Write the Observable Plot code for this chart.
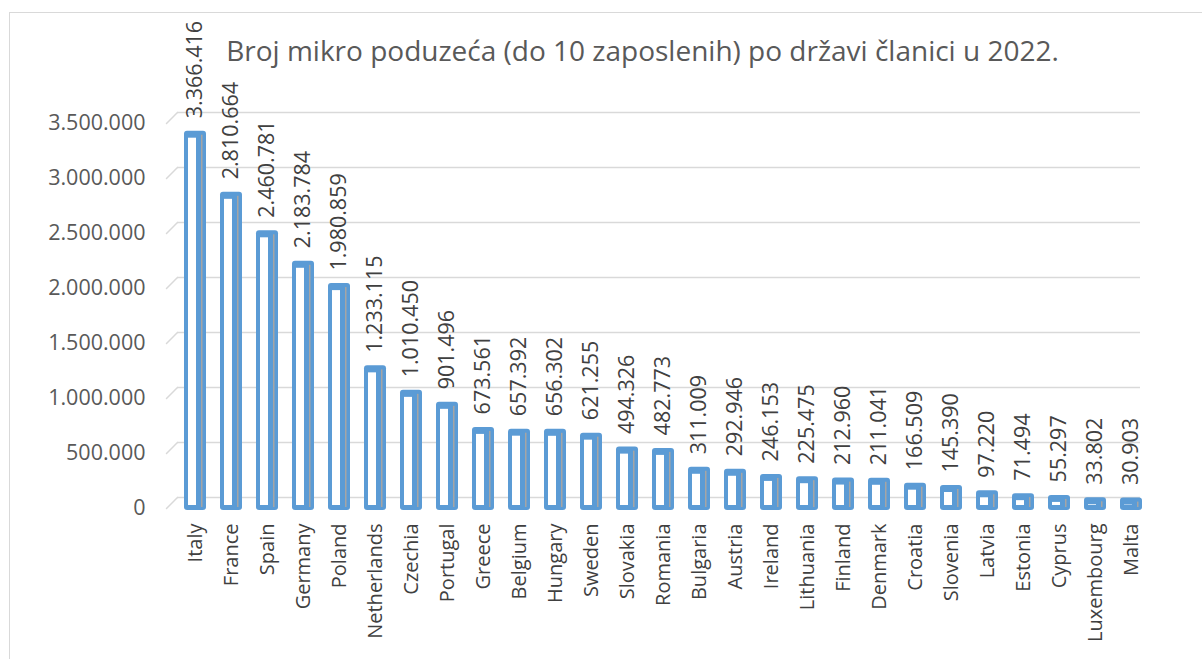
<!DOCTYPE html>
<html><head><meta charset="utf-8">
<script src="https://cdn.jsdelivr.net/npm/d3@7"></script>
<script src="https://cdn.jsdelivr.net/npm/@observablehq/plot@0.6"></script>
<style>
body{margin:0;background:#fff;}
#wrap{position:relative;width:1202px;height:659px;overflow:hidden;}
#frame{position:absolute;left:9px;top:12px;width:1300px;height:800px;border-left:1.5px solid #D9D9D9;border-top:1.5px solid #D9D9D9;}
#title{position:absolute;left:0;width:1285px;top:31px;text-align:center;font-family:"Open Sans",sans-serif;font-size:28px;color:#595959;white-space:nowrap;}
#chart{position:absolute;left:0;top:0;}
</style></head><body>
<div id="wrap"><div id="frame"></div><div id="chart"></div><div id="title">Broj mikro poduzeća (do 10 zaposlenih) po državi članici u 2022.</div></div>
<script>
const countries = ["Italy","France","Spain","Germany","Poland","Netherlands","Czechia","Portugal","Greece","Belgium","Hungary","Sweden","Slovakia","Romania","Bulgaria","Austria","Ireland","Lithuania","Finland","Denmark","Croatia","Slovenia","Latvia","Estonia","Cyprus","Luxembourg","Malta"];
const values = [3366416,2810664,2460781,2183784,1980859,1233115,1010450,901496,673561,657392,656302,621255,494326,482773,311009,292946,246153,225475,212960,211041,166509,145390,97220,71494,55297,33802,30903];
const yTicks = [0,500000,1000000,1500000,2000000,2500000,3000000,3500000];
const yTickLabels = ["0","500.000","1.000.000","1.500.000","2.000.000","2.500.000","3.000.000","3.500.000"];

const fmt = d3.formatLocale({decimal:",",thousands:".",grouping:[3],currency:["",""]}).format(",");
const data = countries.map((c,i)=>({country:c,value:values[i]}));

const chart = Plot.plot({
  width:1202, height:659,
  marginTop:123, marginBottom:151, marginLeft:167, marginRight:43,
  style:{fontFamily:"'Open Sans', sans-serif", background:"transparent", overflow:"visible"},
  x:{domain:countries, padding:0.4, label:null, axis:null},
  y:{domain:[0,3500000], label:null, axis:null},
  marks:[
    Plot.ruleY(yTicks,{dy:-11, insetLeft:10, insetRight:19, stroke:"#D9D9D9", strokeWidth:1.5}),
    Plot.vector(yTicks,{y:d=>d, frameAnchor:"left", dx:-1, length:15.5, rotate:45, anchor:"start", shape:"spike", r:0, stroke:"#D9D9D9", strokeWidth:1.5}),
    Plot.axisY(yTicks,{tickSize:0, tickPadding:22, tickFormat:d=>yTickLabels[yTicks.indexOf(d)], fontSize:21.5, fill:"#595959", label:null}),
    Plot.axisX({tickSize:0, tickPadding:15, tickRotate:-90, fontSize:20, fill:"#404040", label:null}),
    Plot.barY(data,{x:"country", y:"value", fill:"#5B9BD5", insetTop:-7, insetBottom:-2, rx:3}),
    Plot.barY(data,{x:"country", y:"value", fill:"#ffffff", insetLeft:4, insetRight:10, insetBottom:3}),
    Plot.barY(data,{x:"country", y:"value", fill:"#A5A5A5", insetLeft:17, insetRight:3.5, insetTop:-3, insetBottom:1}),
    Plot.text(data,{x:"country", y:"value", text:d=>fmt(d.value), rotate:-90, textAnchor:"start", dy:-20, fontSize:21.5, fill:"#404040"})
  ]
});
document.getElementById("chart").appendChild(chart);
</script>
</body></html>
